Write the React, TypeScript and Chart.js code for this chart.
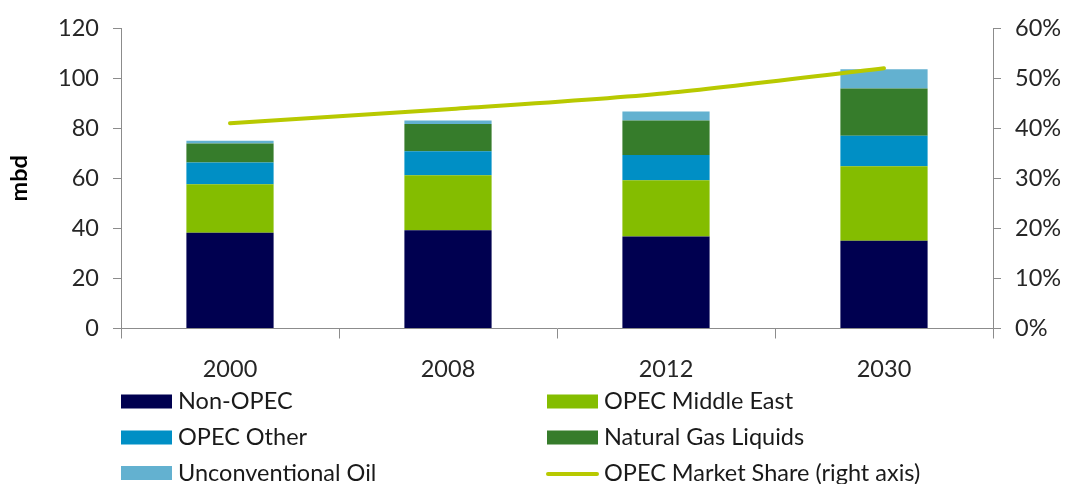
import React, { useEffect, useRef } from "react";
import { Chart, registerables } from "chart.js";

Chart.register(...registerables);

const categories = ["2000", "2008", "2012", "2030"];
const nonOpec = [38.2, 39.2, 36.8, 35.1];
const opecMiddleEast = [19.4, 22.0, 22.4, 29.7];
const opecOther = [8.7, 9.6, 10.1, 12.2];
const naturalGasLiquids = [7.6, 10.9, 13.8, 18.9];
const unconventionalOil = [1.1, 1.4, 3.6, 7.7];
const opecMarketShare = [41.0, 43.8, 47.0, 52.0];
const leftTicks = [0, 20, 40, 60, 80, 100, 120];
const rightTicks = [0, 10, 20, 30, 40, 50, 60];

const FONT = "Lato, 'Open Sans', sans-serif";
const AXIS = "#8c8c8c";
const TEXT = "#262626";
const SIZE = 23.5;

const legendPlugin = {
  id: "customLegend",
  afterDraw(chart: any) {
    const ctx = chart.ctx;
    const ds = chart.data.datasets;
    const colX = [121, 547];
    const rowY = [401.5, 437.5, 473];
    ctx.save();
    ctx.font = `${SIZE}px ${FONT}`;
    ctx.textBaseline = "middle";
    ctx.textAlign = "left";
    ds.forEach((d: any, i: number) => {
      const x = colX[i % 2];
      const y = rowY[Math.floor(i / 2)];
      if (d.type === "line") {
        ctx.strokeStyle = d.borderColor;
        ctx.lineWidth = 4;
        ctx.lineCap = "round";
        ctx.beginPath();
        ctx.moveTo(x + 1, y + 1);
        ctx.lineTo(x + 50, y + 1);
        ctx.stroke();
      } else {
        ctx.fillStyle = d.backgroundColor;
        ctx.fillRect(x, y - 7, 51, 14);
      }
      ctx.fillStyle = "#1a1a1a";
      ctx.fillText(d.label, x + 57, y);
    });
    ctx.restore();
  },
};

export default function App() {
  const ref = useRef<HTMLCanvasElement>(null);
  useEffect(() => {
    if (!ref.current) return;
    const chart = new Chart(ref.current, {
      type: "bar",
      data: {
        labels: categories,
        datasets: [
          { type: "bar", label: "Non-OPEC", data: nonOpec, backgroundColor: "#000050", order: 1 },
          { type: "bar", label: "OPEC Middle East", data: opecMiddleEast, backgroundColor: "#84bd00", order: 1 },
          { type: "bar", label: "OPEC Other", data: opecOther, backgroundColor: "#008fc5", order: 1 },
          { type: "bar", label: "Natural Gas Liquids", data: naturalGasLiquids, backgroundColor: "#367c2b", order: 1 },
          { type: "bar", label: "Unconventional Oil", data: unconventionalOil, backgroundColor: "#63b1d0", order: 1 },
          {
            type: "line",
            label: "OPEC Market Share (right axis)",
            data: opecMarketShare,
            borderColor: "#b8c900",
            backgroundColor: "#b8c900",
            borderWidth: 4,
            pointRadius: 0,
            tension: 0.3,
            yAxisID: "y1",
            order: 0,
            borderCapStyle: "round",
          } as any,
        ],
      },
      options: {
        animation: false,
        responsive: false,
        maintainAspectRatio: false,
        layout: { padding: { top: 27, left: 0, right: 0, bottom: 0 } },
        datasets: { bar: { categoryPercentage: 0.8, barPercentage: 0.5, borderWidth: 0 } },
        plugins: { legend: { display: false }, tooltip: { enabled: false } },
        scales: {
          x: {
            stacked: true,
            offset: true,
            grid: { display: true, offset: true, drawOnChartArea: false, drawTicks: true, tickLength: 10, color: AXIS, lineWidth: 1 },
            border: { display: true, color: AXIS, width: 1 },
            ticks: { color: TEXT, font: { family: FONT, size: SIZE }, padding: 17, maxRotation: 0 },
            afterFit: (s: any) => { s.height = 484 - 328.5; },
          },
          y: {
            stacked: true,
            position: "left",
            min: 0,
            max: 120,
            afterBuildTicks: (s: any) => { s.ticks = leftTicks.map((v) => ({ value: v })); },
            grid: { display: true, drawOnChartArea: false, drawTicks: true, tickLength: 8, color: AXIS },
            border: { display: true, color: AXIS, width: 1 },
            ticks: { color: TEXT, font: { family: FONT, size: SIZE }, padding: 14 },
            title: { display: true, text: "mbd", color: "#000", font: { family: FONT, size: SIZE, weight: "bold" }, padding: { top: 5, bottom: 0 } },
            afterFit: (s: any) => { s.width = 121; },
          },
          y1: {
            position: "right",
            min: 0,
            max: 60,
            afterBuildTicks: (s: any) => { s.ticks = rightTicks.map((v) => ({ value: v })); },
            grid: { display: true, drawOnChartArea: false, drawTicks: true, tickLength: 8, color: AXIS },
            border: { display: true, color: AXIS, width: 1 },
            ticks: { color: TEXT, font: { family: FONT, size: SIZE }, padding: 14, callback: (v: any) => `${v}%` },
            afterFit: (s: any) => { s.width = 1066 - 993; },
          },
        },
      },
      plugins: [legendPlugin],
    } as any);
    return () => chart.destroy();
  }, []);
  return (
    <div style={{ position: "fixed", left: 0, top: 0, width: 1066, height: 484, background: "#fff" }}>
      <canvas ref={ref} width={1066} height={484} style={{ display: "block" }} />
    </div>
  );
}
